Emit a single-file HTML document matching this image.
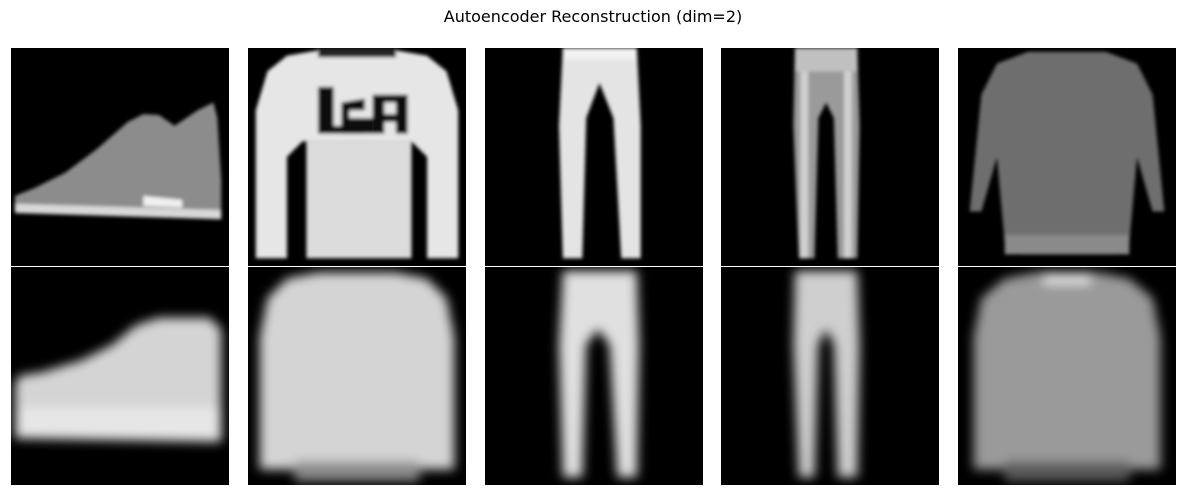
<!DOCTYPE html>
<html><head><meta charset="utf-8">
<style>
html,body{margin:0;padding:0;background:#fff;width:1186px;height:495px;overflow:hidden}
#title{position:absolute;left:0;width:1186px;top:7px;text-align:center;font-family:"DejaVu Sans","Liberation Sans",sans-serif;font-size:16px;color:#000}
svg.im{position:absolute;width:218px;height:218px;background:#000}
</style></head><body>
<div id="title">Autoencoder Reconstruction (dim=2)</div>
<svg width="0" height="0" style="position:absolute"><defs>
<filter id="bl" x="-20%" y="-20%" width="140%" height="140%"><feGaussianBlur stdDeviation="0.7"/></filter>
<filter id="bs" x="-20%" y="-20%" width="140%" height="140%"><feGaussianBlur stdDeviation="0.25"/></filter>
</defs></svg>

<svg class="im" style="left:11px;top:48px" viewBox="0 0 28 28">
<g filter="url(#bs)">
<polygon points="0.5,19 0.5,21 27,22 27,17 26.5,9 26,7 24,8 21,10 19,8.6 17,8.5 15,9.5 11,13 7,16 3,18" fill="#8c8c8c"/>
<polygon points="0.5,20 27,20.8 27,22 0.5,21.2" fill="#d8d8d8"/>
<polygon points="17,19 22,19.5 22,20.5 17,20.3" fill="#f0f0f0"/>
</g></svg>

<svg class="im" style="left:248px;top:48px" viewBox="0 0 28 28">
<g filter="url(#bs)">
<polygon points="5,1 9,0.3 19,0.3 23,1 25.5,3 27,8 27,27 23,27 23,14 21,12 7,12 5,14 5,27 1,27 1,8 2.5,3" fill="#e6e6e6"/>
<rect x="7.5" y="12" width="13.5" height="15" fill="#dcdcdc"/>
<rect x="9" y="0" width="10" height="1.2" fill="#222"/>
<polygon points="9,5 11,5 11,10 15,10 15,11 9,11" fill="#111"/>
<polygon points="12,7 15,6.5 15,8 13,8 13,9 16,9 16,11 12,11" fill="#111"/>
<polygon points="16,6 19,6 19,7 17.5,7 17.5,8.5 19,8.5 19,9.5 17.5,9.5 17.5,11 16,11" fill="#111"/>
<rect x="19" y="6" width="1.5" height="5" fill="#111"/>
</g></svg>

<svg class="im" style="left:485px;top:48px" viewBox="0 0 28 28">
<g filter="url(#bs)">
<polygon points="10,0 19.5,0 20,10 20,27 17.5,27 16.5,9 14.7,4.5 13,9 12.5,27 10,27 9.5,10" fill="#e4e4e4"/>
<rect x="10" y="0" width="9.5" height="1.5" fill="#f2f2f2"/>
</g></svg>

<svg class="im" style="left:721px;top:48px" viewBox="0 0 28 28">
<g filter="url(#bs)">
<polygon points="9.5,0 17.5,0 17.8,10 17.5,27 15,27 14.5,9 13.5,7 12.5,9 12,27 10,27 9.3,10" fill="#9a9a9a"/>
<rect x="9.5" y="0" width="8" height="3" fill="#c0c0c0"/>
<rect x="10.2" y="3" width="1" height="24" fill="#d0d0d0"/>
<rect x="15.8" y="3" width="1" height="24" fill="#d0d0d0"/>
</g></svg>

<svg class="im" style="left:958px;top:48px" viewBox="0 0 28 28">
<g filter="url(#bs)">
<polygon points="9,0.5 19,0.5 23,2 25,6 26,16 26.5,21 25,21 23,14 22,25 20,26.5 8,26.5 6,25 5,14 3,21 1.5,21 2,16 3,6 5,2" fill="#6e6e6e"/>
<rect x="6" y="24" width="16" height="2.5" fill="#8a8a8a"/>
</g></svg>

<svg class="im" style="left:11px;top:267px" viewBox="0 0 28 28">
<g filter="url(#bl)">
<polygon points="0.5,15 0.5,22 27,22.5 27,8 25.5,6.5 23,6.5 19,6.5 16,7.5 13,10 9,12 4,13.5 1,14" fill="#d4d4d4"/>
<rect x="1" y="18" width="26" height="4" fill="#e6e6e6"/>
</g></svg>

<svg class="im" style="left:248px;top:267px" viewBox="0 0 28 28">
<g filter="url(#bl)">
<polygon points="5,1.5 9,0.7 19,0.7 23,1.5 25.5,4 26.5,9 26.5,26 1.5,26 1.5,9 2.5,4" fill="#d4d4d4"/>
<rect x="6" y="25" width="16" height="2.5" fill="#8a8a8a"/>
</g></svg>

<svg class="im" style="left:485px;top:267px" viewBox="0 0 28 28">
<g filter="url(#bl)">
<polygon points="10,0.5 19.5,0.5 19.8,10 19.5,27 17,27 16,10 14.5,8 13,10 12.5,27 10,27 9.5,10" fill="#e0e0e0"/>
</g></svg>

<svg class="im" style="left:721px;top:267px" viewBox="0 0 28 28">
<g filter="url(#bl)">
<polygon points="9.5,0.5 17.5,0.5 17.8,10 17.5,27 15,27 14.5,10 13.5,8 12.5,10 12,27 10,27 9.3,10" fill="#cfcfcf"/>
</g></svg>

<svg class="im" style="left:958px;top:267px" viewBox="0 0 28 28">
<g filter="url(#bl)">
<polygon points="6,1.5 10,0.7 18,0.7 22,1.5 25,4 26,9 26,26 2,26 2,9 3,4" fill="#9a9a9a"/>
<rect x="11" y="0.7" width="6" height="1.5" fill="#e0e0e0"/>
<rect x="6" y="25" width="16" height="2.5" fill="#5a5a5a"/>
</g></svg>
</body></html>
